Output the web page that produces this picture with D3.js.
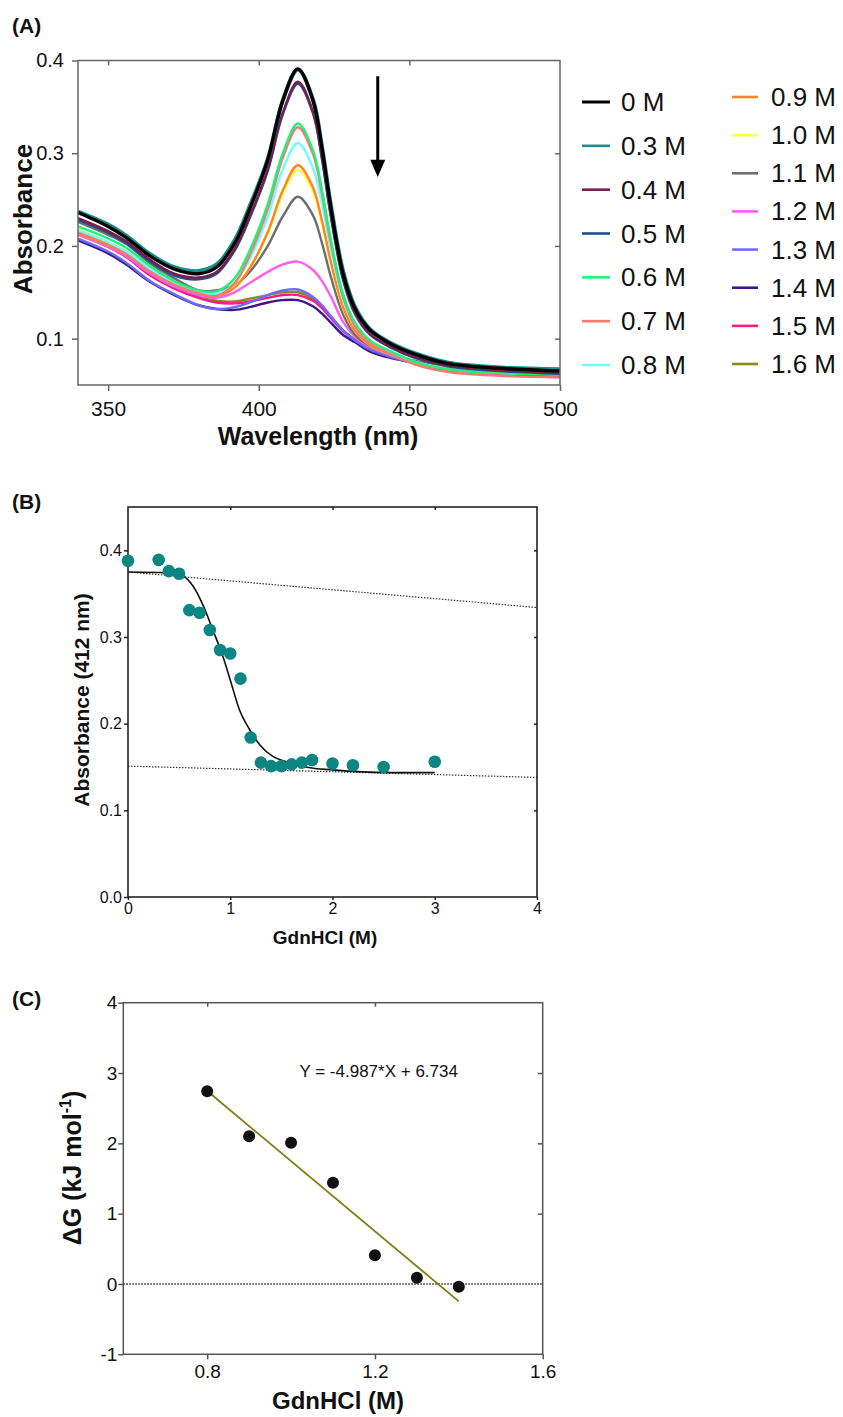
<!DOCTYPE html>
<html>
<head>
<meta charset="utf-8">
<script src="https://cdn.jsdelivr.net/npm/d3@7"></script>
<style>
  body { margin: 0; background: #fff; }
  svg { display: block; }
</style>
</head>
<body>
<svg id="fig" width="843" height="1417"></svg>
<script>
// ---------- data: panel A (absorbance spectra) ----------
const wavelengths = [340, 350, 356, 364, 372, 380, 386, 392, 397, 403, 408, 413, 418, 421, 424, 428, 432, 437, 444, 452, 463, 480, 500];
const concLabels = ["0 M", "0.3 M", "0.4 M", "0.5 M", "0.6 M", "0.7 M", "0.8 M",
                    "0.9 M", "1.0 M", "1.1 M", "1.2 M", "1.3 M", "1.4 M", "1.5 M", "1.6 M"];
const concColors = ["#000000", "#17908b", "#7b1c4c", "#1d4f8f", "#22f07a", "#f9786f", "#72fbff",
                    "#ff8424", "#ffff4a", "#6e6e6e", "#ff5cf0", "#6a6cff", "#3d1787", "#ff1a84", "#8a8a17"];
const abs00 = [.236, .221, .209, .189, .175, .170, .177, .203, .240, .293, .357, .391, .357, .305, .240, .170, .132, .109, .094, .083, .073, .068, .065];
const abs03 = [.237, .223, .211, .191, .177, .173, .180, .206, .243, .294, .357, .390, .358, .307, .243, .173, .134, .110, .095, .084, .074, .069, .067];
const abs04 = [.230, .216, .205, .185, .170, .166, .172, .197, .232, .283, .344, .377, .345, .295, .232, .165, .128, .105, .091, .080, .071, .066, .063];
const abs05 = [.228, .214, .203, .183, .168, .164, .170, .195, .230, .281, .342, .375, .343, .293, .230, .163, .126, .104, .090, .079, .070, .065, .062];
const abs06 = [.221, .208, .198, .178, .162, .152, .151, .165, .195, .245, .300, .332, .303, .260, .206, .148, .117, .098, .086, .075, .067, .063, .061];
const abs07 = [.213, .200, .191, .172, .158, .149, .146, .160, .190, .240, .295, .328, .299, .256, .202, .145, .113, .095, .083, .072, .064, .060, .058];
const abs08 = [.217, .204, .194, .175, .160, .150, .148, .160, .186, .232, .283, .311, .284, .245, .195, .142, .113, .096, .085, .075, .067, .063, .062];
const abs09 = [.216, .202, .192, .173, .159, .149, .146, .155, .176, .215, .260, .287, .263, .227, .182, .134, .108, .093, .083, .074, .067, .063, .062];
const abs10 = [.218, .204, .194, .175, .161, .150, .147, .156, .176, .213, .256, .282, .259, .224, .180, .133, .108, .093, .083, .074, .068, .064, .063];
const abs11 = [.226, .212, .202, .181, .165, .152, .152, .158, .172, .200, .232, .253, .233, .203, .166, .126, .104, .092, .083, .076, .070, .067, .066];
const abs12 = [.212, .199, .189, .170, .156, .147, .144, .150, .160, .172, .180, .183, .174, .162, .145, .118, .102, .091, .082, .074, .068, .065, .064];
const abs13 = [.208, .194, .182, .162, .148, .136, .132, .134, .139, .147, .152, .153, .145, .136, .124, .109, .098, .088, .080, .073, .067, .064, .063];
const abs14 = [.206, .192, .180, .161, .147, .136, .132, .131, .134, .139, .1415, .1415, .135, .127, .117, .104, .096, .086, .079, .074, .069, .067, .066];
const abs15 = [.213, .199, .188, .168, .154, .144, .139, .138, .140, .144, .147, .147, .141, .133, .122, .108, .098, .088, .080, .073, .066, .062, .060];
const abs16 = [.214, .200, .189, .169, .155, .145, .141, .140, .143, .147, .150, .150, .143, .134, .123, .109, .099, .089, .081, .074, .068, .065, .064];
const spectra = [abs00, abs03, abs04, abs05, abs06, abs07, abs08, abs09, abs10, abs11, abs12, abs13, abs14, abs15, abs16];
const xTicksA = [350, 400, 450, 500];
const yTicksA = [0.1, 0.2, 0.3, 0.4];

// ---------- data: panel B (denaturation curve at 412 nm) ----------
const gdnB = [0, 0.3, 0.4, 0.5, 0.6, 0.7, 0.8, 0.9, 1.0, 1.1, 1.2, 1.3, 1.4, 1.5, 1.6, 1.7, 1.8, 2.0, 2.2, 2.5, 3.0];
const absB = [.388, .389, .376, .373, .331, .328, .308, .285, .281, .252, .184, .155, .151, .151, .153, .155, .158, .154, .152, .150, .156];
const fitX = [0, 0.38, 0.54, 0.64, 0.74, 0.83, 0.93, 1.0, 1.09, 1.19, 1.29, 1.42, 1.55, 1.75, 2.0, 2.56, 3.0];
const fitY = [.375, .374, .370, .358, .335, .308, .277, .2505, .216, .193, .1755, .162, .156, .1497, .1467, .1435, .1435];
const nativeBase = [[0, .375], [4, .334]];
const unfoldBase = [[0, .151], [4, .138]];
const xTicksB = [0, 1, 2, 3, 4];
const yTicksB = [0, 0.1, 0.2, 0.3, 0.4];

// ---------- data: panel C (free energy vs GdnHCl) ----------
const gdnC = [0.8, 0.9, 1.0, 1.1, 1.2, 1.3, 1.4];
const dG = [2.74, 2.10, 2.01, 1.44, 0.41, 0.09, -0.04];
const fitSlope = -4.987, fitIntercept = 6.734;
const xTicksC = [0.8, 1.2, 1.6];
const yTicksC = [-1, 0, 1, 2, 3, 4];

const FONT = '"Liberation Sans", Arial, Helvetica, sans-serif';
const svg = d3.select("#fig").style("font-family", FONT);

function styleAxis(g, color, size) {
  g.select(".domain").remove();
  g.selectAll(".tick line").attr("stroke", color).attr("stroke-width", 1.5);
  g.selectAll(".tick text").attr("fill", "#111").attr("font-size", size).attr("font-family", FONT);
}

function frame(g, x, y, color, w) {
  g.append("rect")
    .attr("x", x.range()[0]).attr("y", y.range()[1])
    .attr("width", x.range()[1] - x.range()[0])
    .attr("height", y.range()[0] - y.range()[1])
    .attr("fill", "none").attr("stroke", color).attr("stroke-width", w);
}

function panelLabel(text, y) {
  svg.append("text").attr("x", 12).attr("y", y)
    .attr("font-size", 21).attr("font-weight", "bold").attr("fill", "#111").text(text);
}

// ================= Panel A =================
const xA = d3.scaleLinear().domain([340, 500]).range([78, 560]);
const yA = d3.scaleLinear().domain([0.05, 0.4]).range([385, 60.5]);
const gA = svg.append("g");

const series = spectra.map((v, i) => ({ label: concLabels[i], color: concColors[i], values: v, i }));
const lineA = d3.line()
  .x((d, j) => xA(wavelengths[j]))
  .y(d => yA(d))
  .curve(d3.curveCatmullRom.alpha(0.5));

gA.selectAll("path.spec")
  .data(series.slice().reverse())
  .join("path")
  .attr("class", "spec")
  .attr("fill", "none")
  .attr("stroke", d => d.color)
  .attr("stroke-width", d => d.i === 0 ? 3.4 : (d.i === 1 ? 4 : 2.4))
  .attr("stroke-linejoin", "round")
  .attr("d", d => lineA(d.values));

frame(gA, xA, yA, "#666", 1.5);
gA.append("g").attr("transform", `translate(0,${yA.range()[0]})`)
  .call(d3.axisBottom(xA).tickValues(xTicksA).tickSize(6).tickPadding(10).tickFormat(d3.format("d")))
  .call(g => styleAxis(g, "#666", 21));
gA.append("g").attr("transform", `translate(${xA.range()[0]},0)`)
  .call(d3.axisLeft(yA).tickValues(yTicksA).tickSize(6).tickPadding(8).tickFormat(d3.format(".1f")))
  .call(g => styleAxis(g, "#666", 20));
gA.append("g").attr("transform", `translate(0,${yA.range()[1]})`)
  .call(d3.axisTop(xA).tickValues([350, 400, 450]).tickSize(-5).tickFormat(""))
  .call(g => styleAxis(g, "#666", 20));
gA.append("g").attr("transform", `translate(${xA.range()[1]},0)`)
  .call(d3.axisRight(yA).tickValues([0.1, 0.2, 0.3]).tickSize(-5).tickFormat(""))
  .call(g => styleAxis(g, "#666", 20));

gA.append("text")
  .attr("x", 318).attr("y", 445)
  .attr("text-anchor", "middle").attr("font-size", 25).attr("font-weight", "bold").attr("fill", "#111")
  .text("Wavelength (nm)");
gA.append("text")
  .attr("transform", "translate(32,219) rotate(-90)")
  .attr("text-anchor", "middle").attr("font-size", 26).attr("font-weight", "bold").attr("fill", "#111")
  .text("Absorbance");

// arrow showing decreasing Soret band
const arX = xA(439.5);
gA.append("line")
  .attr("x1", arX).attr("x2", arX).attr("y1", yA(0.383)).attr("y2", yA(0.292))
  .attr("stroke", "#000").attr("stroke-width", 3);
gA.append("path")
  .attr("d", `M${arX - 7.5},${yA(0.293)}L${arX + 7.5},${yA(0.293)}L${arX},${yA(0.2743)}Z`)
  .attr("fill", "#000");

// legend
const col1 = series.slice(0, 7), col2 = series.slice(7);
const ly1 = d3.scaleLinear().domain([0, 6]).range([102, 365]);
const ly2 = d3.scaleLinear().domain([0, 7]).range([97, 364]);
function legendCol(items, ly, x0, x1, tx) {
  const g = gA.append("g");
  const row = g.selectAll("g").data(items).join("g")
    .attr("transform", (d, k) => `translate(0,${ly(k)})`);
  row.append("line").attr("x1", x0).attr("x2", x1)
    .attr("stroke", d => d.color).attr("stroke-width", d => d.i === 0 ? 3 : 2.6);
  row.append("text").attr("x", tx).attr("y", 9)
    .attr("font-size", 26).attr("fill", "#111").text(d => d.label);
}
legendCol(col1, ly1, 582, 610, 621);
legendCol(col2, ly2, 732, 758, 771);

panelLabel("(A)", 33);

// ================= Panel B =================
const xB = d3.scaleLinear().domain([0, 4]).range([128, 537]);
const yB = d3.scaleLinear().domain([0, 0.45]).range([897, 507]);
const gB = svg.append("g");

const baseLine = d3.line().x(d => xB(d[0])).y(d => yB(d[1]));
[nativeBase, unfoldBase].forEach(b => {
  gB.append("path").attr("d", baseLine(b))
    .attr("fill", "none").attr("stroke", "#333").attr("stroke-width", 1.2)
    .attr("stroke-dasharray", "1.5,1.5");
});

const fitPts = fitX.map((x, k) => [x, fitY[k]]);
gB.append("path")
  .attr("d", d3.line().x(d => xB(d[0])).y(d => yB(d[1])).curve(d3.curveMonotoneX)(fitPts))
  .attr("fill", "none").attr("stroke", "#111").attr("stroke-width", 1.6);

frame(gB, xB, yB, "#222", 1.6);
gB.append("g").attr("transform", `translate(0,${yB.range()[0]})`)
  .call(d3.axisBottom(xB).tickValues(xTicksB).tickSize(3).tickPadding(3).tickFormat(d3.format("d")))
  .call(g => styleAxis(g, "#222", 16));
gB.append("g").attr("transform", `translate(${xB.range()[0]},0)`)
  .call(d3.axisLeft(yB).tickValues(yTicksB).tickSize(4).tickPadding(2).tickFormat(d3.format(".1f")))
  .call(g => styleAxis(g, "#222", 16));
gB.append("g").attr("transform", `translate(0,${yB.range()[1]})`)
  .call(d3.axisTop(xB).tickValues([1, 2, 3]).tickSize(-3).tickFormat(""))
  .call(g => styleAxis(g, "#222", 16));
gB.append("g").attr("transform", `translate(${xB.range()[1]},0)`)
  .call(d3.axisRight(yB).tickValues([0.1, 0.2, 0.3, 0.4]).tickSize(-3).tickFormat(""))
  .call(g => styleAxis(g, "#222", 16));

gB.selectAll("circle").data(gdnB).join("circle")
  .attr("cx", d => xB(d)).attr("cy", (d, k) => yB(absB[k]))
  .attr("r", 6.3).attr("fill", "#0b8682");

gB.append("text")
  .attr("x", 325).attr("y", 944)
  .attr("text-anchor", "middle").attr("font-size", 19).attr("font-weight", "bold").attr("fill", "#111")
  .text("GdnHCl (M)");
gB.append("text")
  .attr("transform", "translate(89,700) rotate(-90)")
  .attr("text-anchor", "middle").attr("font-size", 21).attr("font-weight", "bold").attr("fill", "#111")
  .text("Absorbance (412 nm)");

panelLabel("(B)", 509);

// ================= Panel C =================
const xC = d3.scaleLinear().domain([0.6, 1.6]).range([123.3, 542.7]);
const yC = d3.scaleLinear().domain([-1, 4]).range([1354.3, 1002.7]);
const gC = svg.append("g");

gC.append("line")
  .attr("x1", xC(0.6)).attr("x2", xC(1.6)).attr("y1", yC(0)).attr("y2", yC(0))
  .attr("stroke", "#222").attr("stroke-width", 1.5).attr("stroke-dasharray", "1.5,1.5");

const fitEnds = [gdnC[0], gdnC[gdnC.length - 1]];
gC.append("line")
  .attr("x1", xC(fitEnds[0])).attr("y1", yC(fitSlope * fitEnds[0] + fitIntercept))
  .attr("x2", xC(fitEnds[1])).attr("y2", yC(fitSlope * fitEnds[1] + fitIntercept))
  .attr("stroke", "#7d7d12").attr("stroke-width", 1.8);

frame(gC, xC, yC, "#555", 1.5);
gC.append("g").attr("transform", `translate(0,${yC.range()[0]})`)
  .call(d3.axisBottom(xC).tickValues(xTicksC).tickSize(5).tickPadding(5).tickFormat(d3.format(".1f")))
  .call(g => styleAxis(g, "#555", 19));
gC.append("g").attr("transform", `translate(${xC.range()[0]},0)`)
  .call(d3.axisLeft(yC).tickValues(yTicksC).tickSize(5).tickPadding(1).tickFormat(d => String(d)))
  .call(g => styleAxis(g, "#555", 19));
gC.append("g").attr("transform", `translate(0,${yC.range()[1]})`)
  .call(d3.axisTop(xC).tickValues([0.8, 1.2]).tickSize(-4).tickFormat(""))
  .call(g => styleAxis(g, "#555", 19));
gC.append("g").attr("transform", `translate(${xC.range()[1]},0)`)
  .call(d3.axisRight(yC).tickValues([1, 2, 3]).tickSize(-5).tickFormat(""))
  .call(g => styleAxis(g, "#555", 19));

gC.selectAll("circle").data(gdnC).join("circle")
  .attr("cx", d => xC(d)).attr("cy", (d, k) => yC(dG[k]))
  .attr("r", 6).attr("fill", "#111");

gC.append("text")
  .attr("x", xC(1.209)).attr("y", yC(2.95))
  .attr("text-anchor", "middle").attr("font-size", 17).attr("fill", "#111")
  .text(`Y = ${fitSlope}*X + ${fitIntercept}`);

gC.append("text")
  .attr("x", 338).attr("y", 1409)
  .attr("text-anchor", "middle").attr("font-size", 24).attr("font-weight", "bold").attr("fill", "#111")
  .text("GdnHCl (M)");
const yt = gC.append("text")
  .attr("transform", "translate(81,1168) rotate(-90)")
  .attr("text-anchor", "middle").attr("font-size", 25).attr("font-weight", "bold").attr("fill", "#111");
yt.append("tspan").text("ΔG (kJ mol");
yt.append("tspan").attr("font-size", 16).attr("dy", -10).text("-1");
yt.append("tspan").attr("dy", 10).text(")");

panelLabel("(C)", 1006);
</script>
</body>
</html>
